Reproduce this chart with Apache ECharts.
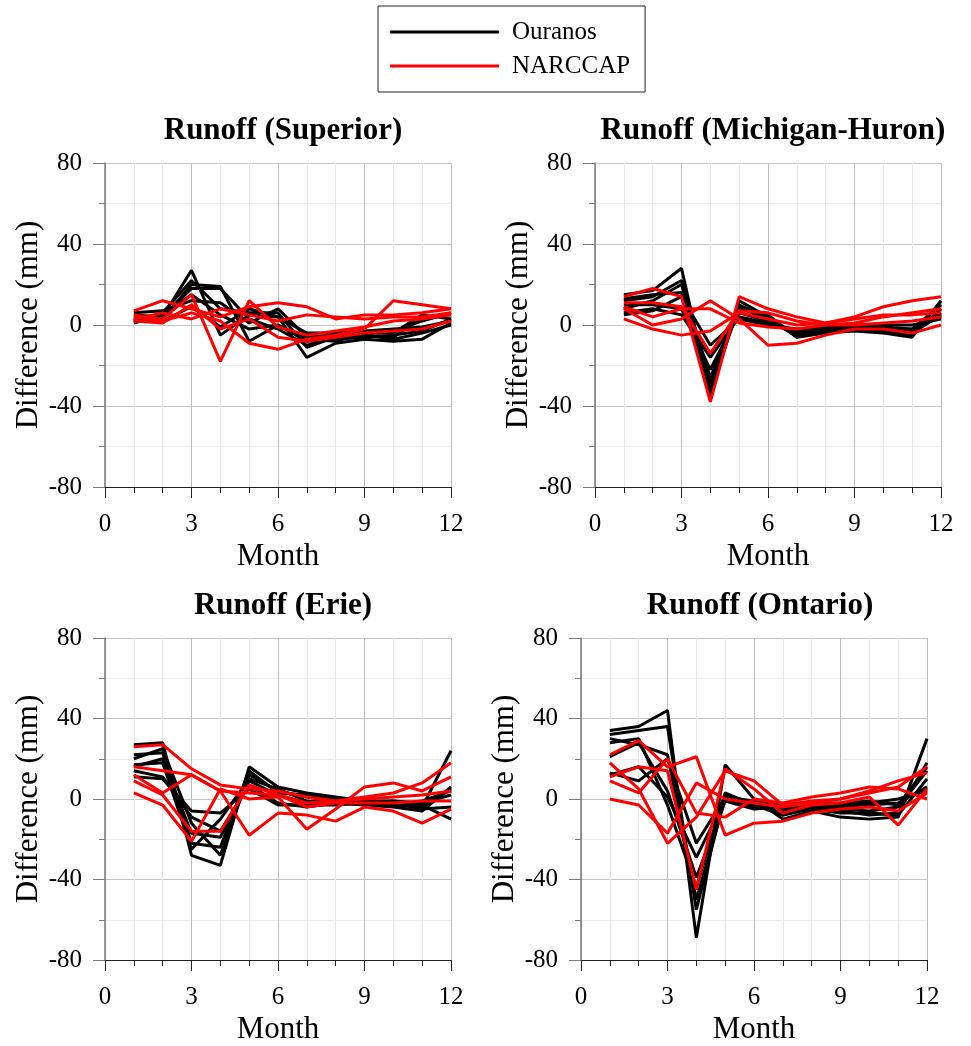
<!DOCTYPE html>
<html>
<head>
<meta charset="utf-8">
<script src="https://cdn.jsdelivr.net/npm/echarts@6/dist/echarts.min.js"></script>
<style>
html,body{margin:0;padding:0;background:#fff;}
#chart{width:971px;height:1046px;}
</style>
</head>
<body>
<div id="chart"></div>
<script>
// ---------- data ----------
const months = [1, 2, 3, 4, 5, 6, 7, 8, 9, 10, 11, 12];
const xTickValues = [0, 3, 6, 9, 12];
const yTickValues = [-80, -40, 0, 40, 80];
const panelTitles = ['Runoff (Superior)', 'Runoff (Michigan-Huron)', 'Runoff (Erie)', 'Runoff (Ontario)'];
const seriesNames = ['Ouranos', 'NARCCAP'];

const superiorOuranos = [
  [4, 4, 27, -5, 5, 4, -16, -9, -7, -8, -7, 1],
  [2, 3, 20, 19, -8, 0, -8, -7, -6, -5, -3, 3],
  [5, 4, 18, 18, 3, -2, -10, -6, -5, -6, 4, 5],
  [6, 7, 12, 11, 1, 8, -6, -5, -4, -4, 5, 3],
  [3, 2, 9, -1, 8, 4, -4, -4, -3, -2, -1, 2],
  [1, 5, 15, 5, -2, 0, -7, -8, -4, -3, 2, 6],
  [2, 6, 22, 8, 6, 6, -11, -6, -5, -7, -4, 0]
];
const superiorNarccap = [
  [7, 12, 8, 4, 9, 11, 9, 3, 5, 5, 6, 8],
  [5, 3, 15, -18, 12, -1, -5, -3, -1, 2, 3, 5],
  [4, 2, 6, 2, -9, -12, -7, -5, -2, 12, 10, 8],
  [3, 6, 3, 8, 5, 2, 5, 4, 3, 4, 4, 6],
  [2, 1, 10, -2, 3, -6, -8, -6, -4, -3, -2, 2]
];

const michiganOuranos = [
  [15, 17, 28, -35, 12, 4, -6, -4, -3, -4, -6, 12],
  [12, 14, 22, -29, 10, 3, -5, -3, -2, -3, -5, 8],
  [10, 10, 8, -22, 6, 2, -4, -2, -1, -2, -3, 6],
  [6, 8, 5, -16, 4, 1, -3, -1, 0, -1, -2, 4],
  [5, 7, 14, -10, 3, 0, -2, -1, 0, 0, 0, 3],
  [8, 12, 20, -26, 8, 5, -6, -3, -2, -2, -4, 5],
  [13, 15, 16, -32, 9, 2, -5, -2, -1, -3, -2, 10]
];
const michiganNarccap = [
  [14, 18, 14, -38, 14, 8, 4, 1, 4, 9, 12, 14],
  [11, 11, 9, -14, 7, 6, 2, 0, 1, 4, 6, 8],
  [8, 0, 3, 12, 3, -10, -9, -5, -2, -2, -4, 0],
  [3, -2, -5, -3, 6, 3, 0, 1, 3, 5, 5, 6],
  [9, 4, 8, 8, 1, -1, -2, 0, 0, 1, 2, 4]
];

const erieOuranos = [
  [27, 28, -28, -33, 16, 6, 3, 1, -1, -1, -3, -10],
  [22, 23, -22, -24, 14, 3, 2, 0, -1, -2, -5, -4],
  [16, 20, -17, -19, 9, 2, -2, -1, -2, -3, -4, 24],
  [14, 11, -9, -16, 7, -2, -4, -2, -3, -4, -6, 6],
  [11, 10, -6, -7, 5, -3, -3, -3, -2, -3, -1, 4],
  [20, 25, -12, -28, 12, 4, 1, -1, -1, -2, -4, 5],
  [17, 18, -25, -10, 10, 5, -1, -2, -2, -1, -2, 2]
];
const erieNarccap = [
  [26, 27, 15, 7, 5, 4, 1, -1, 0, 1, 2, 4],
  [16, 14, 12, 4, 3, 2, -2, -1, 1, 3, 8, 18],
  [12, 3, 12, 4, -18, -7, -8, -11, -4, -6, -12, -5],
  [3, -3, -21, 5, 0, 1, -15, -5, 6, 8, 4, 11],
  [9, 2, -16, -16, 7, 2, -4, -2, -2, -2, -1, -1]
];

const ontarioOuranos = [
  [34, 36, 44, -69, 17, 0, -10, -6, -9, -10, -9, 30],
  [32, 34, 36, -55, 2, -2, -8, -4, -6, -8, -7, 18],
  [30, 27, 22, -50, 0, -4, -5, -3, -5, -6, -4, 14],
  [21, 28, 4, -39, -1, -5, -4, -3, -4, -3, -2, 6],
  [12, 16, 1, -29, 0, -3, -6, -4, -3, -2, 0, 4],
  [13, 9, 20, -22, 1, -1, -3, -2, -2, -1, -3, 16],
  [28, 30, -3, -44, 3, -3, -8, -5, -7, -7, -8, 10]
];
const ontarioNarccap = [
  [22, 29, 16, 21, -18, -12, -11, -7, -5, -4, -6, 3],
  [18, 5, -22, -9, 14, 9, -3, -1, 0, 3, 6, 16],
  [11, 16, 14, -45, 15, 5, -7, -3, -2, 1, -13, 5],
  [0, -3, -17, 8, 0, -2, -4, -2, 0, 4, 9, 13],
  [9, 3, 20, -7, -9, 0, -2, 1, 3, 6, 5, 0]
];

const panelOuranos = [superiorOuranos, michiganOuranos, erieOuranos, ontarioOuranos];
const panelNarccap = [superiorNarccap, michiganNarccap, erieNarccap, ontarioNarccap];

// ---------- layout ----------
const FONT = "'Liberation Serif', 'Times New Roman', serif";
const gridBoxes = [
  {left: 105, top: 163, width: 346, height: 324},
  {left: 595, top: 163, width: 346, height: 324},
  {left: 105, top: 638, width: 346, height: 324},
  {left: 581, top: 638, width: 346, height: 324}
];
const titleCenters = [[283, 115], [773, 115], [283, 590], [760, 590]];

const grids = gridBoxes.map(b => Object.assign({containLabel: false, show: false}, b));

const xAxes = gridBoxes.map((b, i) => ({
  type: 'value', gridIndex: i, min: 0, max: 12, interval: 3,
  name: 'Month', nameLocation: 'middle', nameGap: 54,
  nameTextStyle: {fontFamily: FONT, fontSize: 31, color: '#000'},
  axisLine: {show: true, onZero: false, lineStyle: {color: '#222', width: 1}},
  axisTick: {show: true, length: 11, lineStyle: {color: '#222', width: 1}},
  minorTick: {show: true, splitNumber: 3, length: 6, lineStyle: {color: '#222', width: 1}},
  axisLabel: {fontFamily: FONT, fontSize: 25, color: '#000', margin: 25,
    customValues: xTickValues},
  splitLine: {show: true, lineStyle: {color: '#bdbdbd', width: 1}},
  minorSplitLine: {show: true, lineStyle: {color: '#e8e8e8', width: 1}}
}));

const yAxes = gridBoxes.map((b, i) => ({
  type: 'value', gridIndex: i, min: -80, max: 80, interval: 40,
  name: 'Difference (mm)', nameLocation: 'middle', nameGap: 59, nameRotate: 90,
  nameTextStyle: {fontFamily: FONT, fontSize: 31, color: '#000'},
  axisLine: {show: true, onZero: false, lineStyle: {color: '#7a7a7a', width: 1.5}},
  axisTick: {show: true, length: 12, lineStyle: {color: '#7a7a7a', width: 1}},
  minorTick: {show: true, splitNumber: 2, length: 6, lineStyle: {color: '#7a7a7a', width: 1}},
  axisLabel: {fontFamily: FONT, fontSize: 25, color: '#000', margin: 23},
  splitLine: {show: true, lineStyle: {color: '#c4c4c4', width: 1}},
  minorSplitLine: {show: true, lineStyle: {color: '#ececec', width: 1}}
}));

const series = [];
for (let p = 0; p < 4; p++) {
  panelOuranos[p].forEach(vals => {
    series.push({
      type: 'line', name: seriesNames[0], xAxisIndex: p, yAxisIndex: p,
      data: months.map((m, k) => [m, vals[k]]),
      showSymbol: false, symbol: 'none', silent: true,
      lineStyle: {color: '#000', width: 3}, itemStyle: {color: '#000'}, z: 2
    });
  });
}
for (let p = 0; p < 4; p++) {
  panelNarccap[p].forEach(vals => {
    series.push({
      type: 'line', name: seriesNames[1], xAxisIndex: p, yAxisIndex: p,
      data: months.map((m, k) => [m, vals[k]]),
      showSymbol: false, symbol: 'none', silent: true,
      lineStyle: {color: '#ff0000', width: 3}, itemStyle: {color: '#ff0000'}, z: 3
    });
  });
}

const titles = panelTitles.map((t, i) => ({
  text: t, left: titleCenters[i][0], top: titleCenters[i][1], textAlign: 'center', padding: 0,
  textStyle: {fontFamily: FONT, fontWeight: 'bold', fontSize: 31, color: '#000'}
}));

const chart = echarts.init(document.getElementById('chart'), null, {renderer: 'canvas'});
chart.setOption({
  animation: false,
  backgroundColor: '#fff',
  title: titles,
  legend: {
    data: seriesNames,
    orient: 'vertical', left: 378, top: 6,
    padding: [11, 15, 11, 12], itemGap: 4,
    itemWidth: 109, itemHeight: 3, icon: 'rect',
    borderColor: '#222', borderWidth: 1,
    selectedMode: false,
    textStyle: {fontFamily: FONT, fontSize: 25, color: '#000', lineHeight: 30, padding: [0, 0, 0, 8]}
  },
  grid: grids,
  xAxis: xAxes,
  yAxis: yAxes,
  series: series
});
</script>
</body>
</html>
